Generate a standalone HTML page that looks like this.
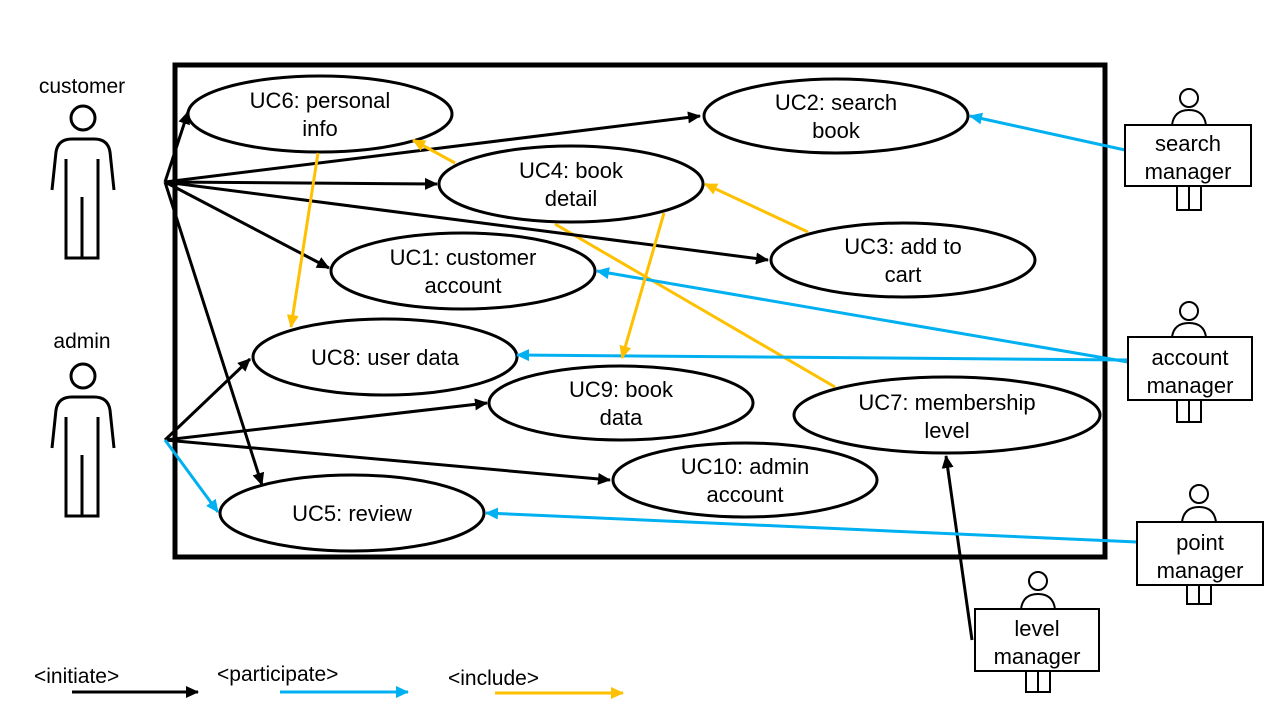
<!DOCTYPE html>
<html><head><meta charset="utf-8"><style>
html,body{margin:0;padding:0;background:#fff;}
svg{display:block;font-family:"Liberation Sans","Noto Sans CJK KR",sans-serif;}
</style></head><body>
<svg width="1280" height="720" viewBox="0 0 1280 720">
<defs>
<marker id="ak" markerWidth="13" markerHeight="12" refX="12" refY="6" orient="auto" markerUnits="userSpaceOnUse"><path d="M0,0 L13,6 L0,12 z" fill="#000"/></marker>
<marker id="ab" markerWidth="13" markerHeight="12" refX="12" refY="6" orient="auto" markerUnits="userSpaceOnUse"><path d="M0,0 L13,6 L0,12 z" fill="#00b0f0"/></marker>
<marker id="ao" markerWidth="13" markerHeight="12" refX="12" refY="6" orient="auto" markerUnits="userSpaceOnUse"><path d="M0,0 L13,6 L0,12 z" fill="#ffc000"/></marker>
<g id="actor" fill="none" stroke="#000" stroke-width="3">
<circle cx="83" cy="118" r="12"/>
<path d="M52,190 L56,152 Q58,139 72,139 L94,139 Q108,139 110,152 L114,190"/>
<path d="M66,159 V258 H98 V159 M82,197 V258"/>
</g>
</defs>
<rect x="175" y="65" width="930" height="492" fill="none" stroke="#000" stroke-width="5"/>
<line x1="835" y1="387" x2="555" y2="224" stroke="#ffc000" stroke-width="3"/>
<g fill="#fff" stroke="#000" stroke-width="3">
<ellipse cx="320" cy="114" rx="132" ry="38"/>
<ellipse cx="836" cy="116" rx="132" ry="37"/>
<ellipse cx="571" cy="184" rx="132" ry="38"/>
<ellipse cx="903" cy="260" rx="132" ry="37"/>
<ellipse cx="463" cy="271" rx="132" ry="38"/>
<ellipse cx="385" cy="357" rx="132" ry="38"/>
<ellipse cx="621" cy="403" rx="132" ry="37"/>
<ellipse cx="947" cy="415" rx="153" ry="38"/>
<ellipse cx="745" cy="480" rx="132" ry="37"/>
<ellipse cx="352" cy="513" rx="132" ry="38"/>
</g>
<g font-size="22" text-anchor="middle" fill="#000">
<text x="320" y="108">UC6: personal</text><text x="320" y="136">info</text>
<text x="836" y="110">UC2: search</text><text x="836" y="138">book</text>
<text x="571" y="178">UC4: book</text><text x="571" y="206">detail</text>
<text x="903" y="254">UC3: add to</text><text x="903" y="282">cart</text>
<text x="463" y="265">UC1: customer</text><text x="463" y="293">account</text>
<text x="385" y="365">UC8: user data</text>
<text x="621" y="397">UC9: book</text><text x="621" y="425">data</text>
<text x="947" y="410">UC7: membership</text><text x="947" y="438">level</text>
<text x="745" y="474">UC10: admin</text><text x="745" y="502">account</text>
<text x="352" y="521">UC5: review</text>
</g>
<g stroke="#000" stroke-width="3" marker-end="url(#ak)">
<line x1="165" y1="182" x2="188" y2="112"/>
<line x1="165" y1="182" x2="700" y2="116"/>
<line x1="165" y1="182" x2="437" y2="184"/>
<line x1="165" y1="182" x2="768" y2="260"/>
<line x1="165" y1="182" x2="329" y2="268"/>
<line x1="165" y1="182" x2="262" y2="485"/>
<line x1="165" y1="440" x2="250" y2="359"/>
<line x1="165" y1="440" x2="487" y2="403"/>
<line x1="165" y1="440" x2="610" y2="480"/>
<line x1="972" y1="640" x2="946" y2="456"/>
</g>
<g stroke="#00b0f0" stroke-width="3" marker-end="url(#ab)">
<line x1="165" y1="440" x2="218" y2="512"/>
<line x1="1125" y1="150" x2="970" y2="116"/>
<line x1="1128" y1="362" x2="597" y2="271"/>
<line x1="1128" y1="360" x2="517" y2="355"/>
<line x1="1137" y1="542" x2="486" y2="513"/>
</g>
<g stroke="#ffc000" stroke-width="3" marker-end="url(#ao)">
<line x1="455" y1="163" x2="413" y2="140"/>
<line x1="808" y1="232" x2="705" y2="184"/>
<line x1="318" y1="153" x2="291" y2="327"/>
<line x1="664" y1="213" x2="622" y2="358"/>
</g>
<use href="#actor"/>
<use href="#actor" y="258"/>
<g font-size="21" text-anchor="middle">
<text x="82" y="93">customer</text>
<text x="82" y="348">admin</text>
</g>
<g fill="#fff" stroke="#000" stroke-width="2">
<circle cx="1189" cy="98" r="9"/><path d="M1172,125 Q1174,110 1189,110 Q1204,110 1206,125"/>
<path d="M1177,186 V210 H1201 V186 M1189,186 V210"/>
<rect x="1125" y="125" width="126" height="61"/>
<circle cx="1189" cy="311" r="9"/><path d="M1172,337 Q1174,323 1189,323 Q1204,323 1206,337"/>
<path d="M1177,400 V422 H1201 V400 M1189,400 V422"/>
<rect x="1128" y="337" width="124" height="63"/>
<circle cx="1199" cy="494" r="9"/><path d="M1182,522 Q1184,507 1199,507 Q1214,507 1216,522"/>
<path d="M1187,585 V604 H1211 V585 M1199,585 V604"/>
<rect x="1137" y="522" width="126" height="63"/>
<circle cx="1038" cy="581" r="9"/><path d="M1021,609 Q1023,594 1038,594 Q1053,594 1055,609"/>
<path d="M1026,671 V692 H1050 V671 M1038,671 V692"/>
<rect x="975" y="609" width="124" height="62"/>
</g>
<g font-size="22" text-anchor="middle">
<text x="1188" y="151">search</text><text x="1188" y="179">manager</text>
<text x="1190" y="365">account</text><text x="1190" y="393">manager</text>
<text x="1200" y="550">point</text><text x="1200" y="578">manager</text>
<text x="1037" y="636">level</text><text x="1037" y="664">manager</text>
</g>
<g font-size="21">
<text x="34" y="683">&lt;initiate&gt;</text>
<text x="217" y="681">&lt;participate&gt;</text>
<text x="448" y="685">&lt;include&gt;</text>
</g>
<line x1="72" y1="692" x2="198" y2="692" stroke="#000" stroke-width="3" marker-end="url(#ak)"/>
<line x1="280" y1="692" x2="408" y2="692" stroke="#00b0f0" stroke-width="3" marker-end="url(#ab)"/>
<line x1="495" y1="693" x2="623" y2="693" stroke="#ffc000" stroke-width="3" marker-end="url(#ao)"/>
</svg>
</body></html>
